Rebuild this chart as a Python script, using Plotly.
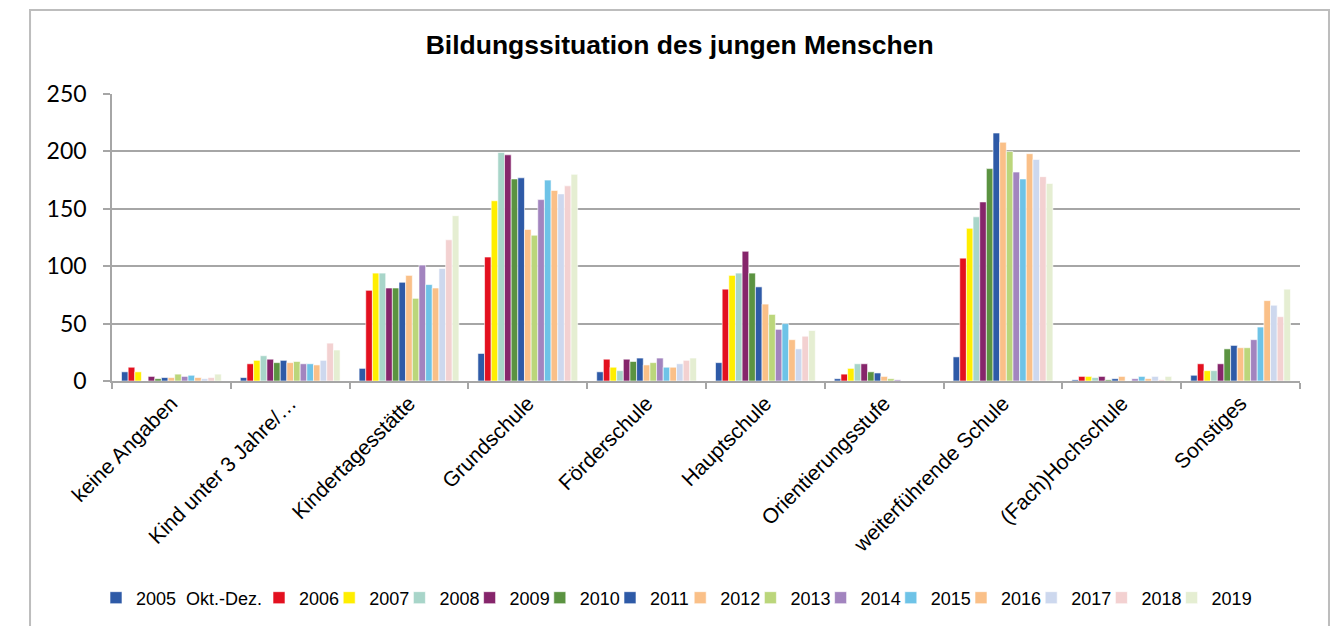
import plotly.graph_objects as go

kategorien = ["keine Angaben", "Kind unter 3 Jahre/…", "Kindertagesstätte", "Grundschule",
              "Förderschule", "Hauptschule", "Orientierungsstufe", "weiterführende Schule",
              "(Fach)Hochschule", "Sonstiges"]

jahre = ["2005  Okt.-Dez.", "2006", "2007", "2008", "2009", "2010", "2011", "2012",
         "2013", "2014", "2015", "2016", "2017", "2018", "2019"]

w2005 = [8, 3, 11, 24, 8, 16, 2, 21, 1, 5]
w2006 = [12, 15, 79, 108, 19, 80, 6, 107, 4, 15]
w2007 = [8, 18, 94, 157, 12, 92, 11, 133, 4, 9]
w2008 = [0, 22, 94, 199, 9, 94, 15, 143, 3, 9]
w2009 = [4, 19, 81, 197, 19, 113, 15, 156, 4, 15]
w2010 = [2, 16, 81, 176, 17, 94, 8, 185, 1, 28]
w2011 = [3, 18, 86, 177, 20, 82, 7, 216, 2, 31]
w2012 = [3, 16, 92, 132, 14, 67, 4, 208, 4, 29]
w2013 = [6, 17, 72, 127, 16, 58, 2, 200, 0, 29]
w2014 = [4, 15, 101, 158, 20, 45, 1, 182, 2, 36]
w2015 = [5, 15, 84, 175, 12, 50, 0, 176, 4, 47]
w2016 = [3, 14, 81, 166, 12, 36, 0, 198, 2, 70]
w2017 = [2, 18, 98, 163, 15, 28, 0, 193, 4, 66]
w2018 = [3, 33, 123, 170, 18, 39, 0, 178, 1, 56]
w2019 = [6, 27, 144, 180, 20, 44, 0, 172, 4, 80]

werte = [w2005, w2006, w2007, w2008, w2009, w2010, w2011, w2012,
         w2013, w2014, w2015, w2016, w2017, w2018, w2019]

farben = ["#2E5AA7", "#E3101F", "#FFEE00", "#A8D5C9", "#86256B", "#5B9341", "#2E5AA7",
          "#FAC088", "#BBD67B", "#A284BF", "#6EC3E7", "#FAC088", "#CDD8EE", "#F3D1D1", "#E5EED2"]

grau = "#A6A6A6"
leg_font = dict(family="Liberation Sans, Arial", size=18, color="black")

fig = go.Figure()
legenden = {}
for i, (jahr, y) in enumerate(zip(jahre, werte)):
    # jede Jahreszahl bekommt eine eigene Legende, so lassen sich die Abstände genau setzen
    key = "legend" if i == 0 else f"legend{i + 1}"
    fig.add_trace(go.Bar(
        x=kategorien, y=y, name=jahr,
        marker=dict(color=farben[i], line=dict(color="white", width=0.6)),
        legend=key
    ))
    px = 104 if i == 0 else 267 + 70.2 * (i - 1)
    legenden[key] = dict(orientation="h", x=(px - 16 - 104) / 1188, xanchor="left",
                         y=-0.756, yanchor="middle", font=leg_font, bgcolor="rgba(0,0,0,0)")

fig.update_layout(
    width=1338, height=626, showlegend=True,
    barmode="group", bargap=0.16, bargroupgap=0,
    plot_bgcolor="white", paper_bgcolor="white",
    margin=dict(l=104, r=46, t=86, b=253),
    title=dict(text="<b>Bildungssituation des jungen Menschen</b>", x=0.502, xanchor="center",
               y=0.941, yanchor="middle", font=dict(family="Liberation Sans, Arial", size=26.5, color="black")),
    shapes=[dict(type="rect", xref="paper", yref="paper", x0=-0.069, x1=1.0244, y0=-1.2, y1=1.2927,
                 line=dict(color="#BDBDBD", width=2), fillcolor="rgba(0,0,0,0)", layer="below")],
    **legenden
)
fig.update_yaxes(range=[0, 250], tickvals=[0, 50, 100, 150, 200, 250],
                 showgrid=True, gridcolor=grau, gridwidth=1.6, zeroline=False,
                 showline=True, linecolor=grau, linewidth=1.6,
                 ticks="outside", ticklen=7, tickcolor=grau, tickwidth=1.6, ticklabelstandoff=12,
                 tickfont=dict(family="Lato", size=23, color="black"))
fig.update_xaxes(showline=True, linecolor=grau, linewidth=1.6,
                 ticks="outside", tickson="boundaries", ticklen=6, tickcolor=grau, tickwidth=1.6,
                 tickangle=-45, tickfont=dict(family="Liberation Sans, Arial", size=21, color="black"))

fig.write_html("out.html")
